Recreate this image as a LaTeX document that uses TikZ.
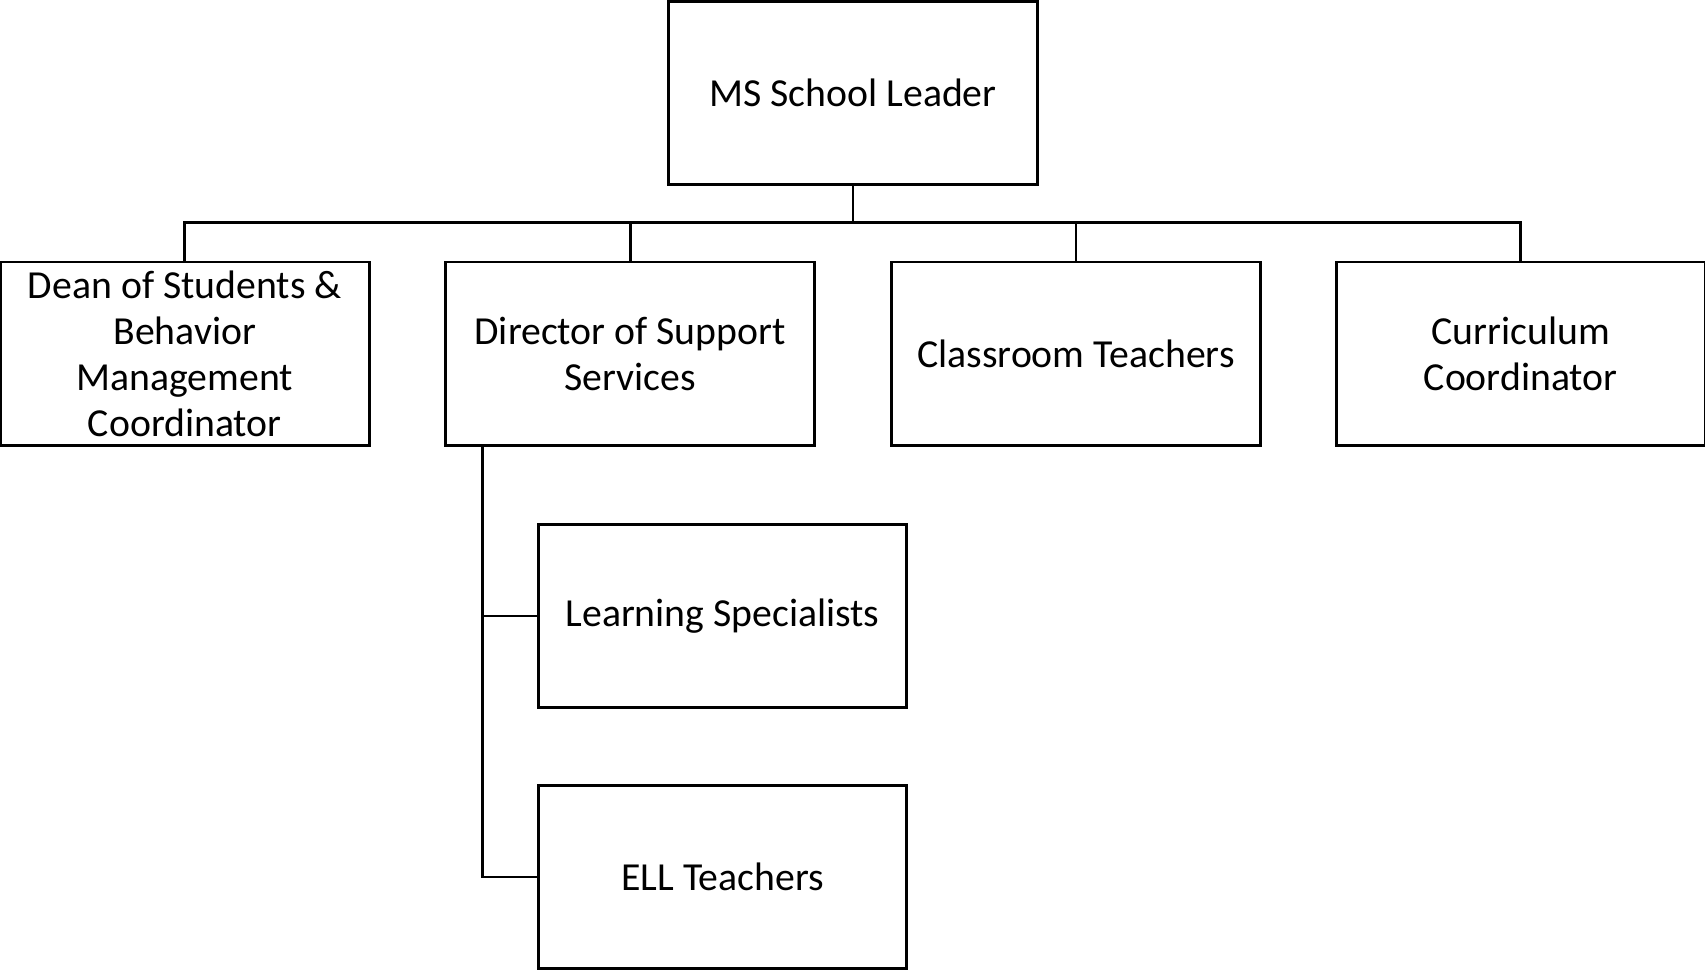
\documentclass[tikz,border=0pt]{standalone}
\usepackage{fontspec}
\setmainfont{Carlito}
\usepackage{tikz}
\usetikzlibrary{positioning}
\tikzset{
  unit/.style={draw, line width=0.75pt, minimum width=33.9mm, minimum height=16.9mm,
    align=center, inner sep=0pt, font=\fontsize{10.4}{12}\selectfont},
  link/.style={line width=0.75pt}
}

\begin{document}
\begin{tikzpicture}[x=0.1mm, y=-0.1mm]

        % Frame
        \useasboundingbox (0,0) rectangle (1568,894);

        % Top box
        \node[unit] (lead) at (784.5,85.5) {MS School Leader};

        % Second row
        \node[unit] (dean) at (170,325.5) {Dean of Students \&\\Behavior\\Management\\Coordinator};
        \node[unit] (dir) at (579.5,325.5) {Director of Support\\Services};
        \node[unit] (class) at (989.5,325.5) {Classroom Teachers};
        \node[unit] (curr) at (1398.5,325.5) {Curriculum\\Coordinator};

        % Under the director
        \node[unit] (learn) at (664.5,566.5) {Learning Specialists};
        \node[unit] (ell) at (664.5,806.5) {ELL Teachers};

        % Bus line
        \coordinate (bus) at (784.5,205);
        \draw[link] (lead.south) -- (bus);
        \foreach \n in {dean, dir, class, curr}
            \draw[link] (bus) -| (\n.north);

        % Side line
        \coordinate (spine) at (444,410);
        \draw[link] (spine) |- (learn.west);
        \draw[link] (spine) |- (ell.west);

\end{tikzpicture}
\end{document}
